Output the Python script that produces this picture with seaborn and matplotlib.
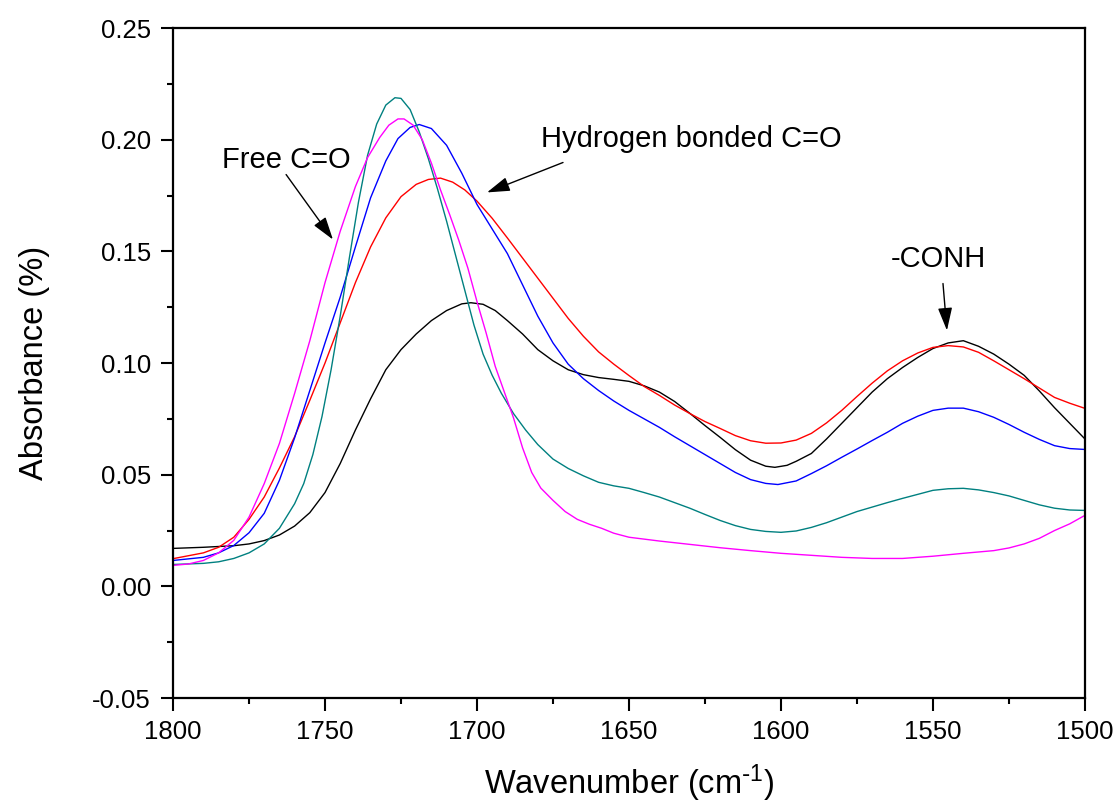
import numpy as np
import pandas as pd
import matplotlib
matplotlib.use("Agg")
import matplotlib.pyplot as plt
from matplotlib.ticker import MultipleLocator, FormatStrFormatter
import seaborn as sns

# ---- data ----
black_x = [1800, 1790, 1780, 1775, 1770, 1765, 1760, 1755, 1750, 1745, 1740, 1735, 1730, 1725, 1720,
           1715, 1710, 1705, 1702, 1698, 1694, 1690, 1685, 1680, 1675, 1670, 1665, 1660, 1655, 1650,
           1645, 1640, 1635, 1630, 1625, 1620, 1615, 1610, 1605, 1602, 1598, 1595, 1590, 1585, 1580,
           1575, 1570, 1565, 1560, 1555, 1550, 1545, 1540, 1535, 1530, 1525, 1520, 1515, 1510, 1505, 1500]
black_y = [0.0170, 0.0175, 0.0182, 0.0190, 0.0205, 0.0230, 0.0270, 0.0330, 0.0420, 0.0550, 0.0700,
           0.0840, 0.0970, 0.1060, 0.1130, 0.1190, 0.1235, 0.1265, 0.1270, 0.1263, 0.1235, 0.1190,
           0.1130, 0.1060, 0.1010, 0.0970, 0.0948, 0.0935, 0.0927, 0.0918, 0.0898, 0.0870, 0.0828,
           0.0775, 0.0720, 0.0667, 0.0612, 0.0565, 0.0538, 0.0533, 0.0542, 0.0560, 0.0595, 0.0660,
           0.0730, 0.0800, 0.0870, 0.0930, 0.0980, 0.1025, 0.1065, 0.1090, 0.1100, 0.1075, 0.1040,
           0.0995, 0.0945, 0.0875, 0.0800, 0.0730, 0.0660]

red_x = [1800, 1790, 1785, 1780, 1775, 1770, 1765, 1760, 1755, 1750, 1745, 1740, 1735, 1730, 1725,
         1720, 1716, 1712, 1708, 1704, 1700, 1695, 1690, 1685, 1680, 1675, 1670, 1665, 1660, 1655,
         1650, 1645, 1640, 1635, 1630, 1625, 1620, 1615, 1610, 1605, 1600, 1595, 1590, 1585, 1580,
         1575, 1570, 1565, 1560, 1555, 1550, 1545, 1540, 1535, 1530, 1525, 1520, 1515, 1510, 1505, 1500]
red_y = [0.0124, 0.0150, 0.0175, 0.0220, 0.0300, 0.0400, 0.0530, 0.0670, 0.0833, 0.1000, 0.1180,
         0.1360, 0.1520, 0.1650, 0.1745, 0.1800, 0.1822, 0.1828, 0.1810, 0.1775, 0.1725, 0.1648,
         0.1560, 0.1470, 0.1380, 0.1290, 0.1200, 0.1120, 0.1050, 0.0995, 0.0944, 0.0895, 0.0855,
         0.0812, 0.0774, 0.0738, 0.0707, 0.0675, 0.0652, 0.0641, 0.0642, 0.0655, 0.0685, 0.0732,
         0.0788, 0.0850, 0.0910, 0.0965, 0.1010, 0.1045, 0.1070, 0.1078, 0.1072, 0.1048, 0.1010,
         0.0970, 0.0930, 0.0888, 0.0846, 0.0820, 0.0797]

blue_x = [1800, 1790, 1785, 1780, 1775, 1770, 1765, 1760, 1755, 1750, 1745, 1740, 1735, 1730, 1726,
          1722, 1719, 1715, 1710, 1705, 1700, 1695, 1690, 1685, 1680, 1675, 1670, 1665, 1660, 1655,
          1650, 1645, 1640, 1635, 1630, 1625, 1620, 1615, 1610, 1605, 1601, 1595, 1590, 1585, 1580,
          1575, 1570, 1565, 1560, 1555, 1550, 1545, 1540, 1535, 1530, 1525, 1520, 1515, 1510, 1505, 1500]
blue_y = [0.0116, 0.0130, 0.0150, 0.0183, 0.0240, 0.0327, 0.0475, 0.0665, 0.0877, 0.1090, 0.1295,
          0.1520, 0.1740, 0.1905, 0.2005, 0.2055, 0.2068, 0.2050, 0.1975, 0.1850, 0.1710, 0.1600,
          0.1490, 0.1350, 0.1210, 0.1090, 0.0995, 0.0930, 0.0877, 0.0830, 0.0788, 0.0750, 0.0712,
          0.0670, 0.0630, 0.0590, 0.0550, 0.0510, 0.0478, 0.0461, 0.0456, 0.0472, 0.0505, 0.0540,
          0.0578, 0.0615, 0.0653, 0.0690, 0.0730, 0.0762, 0.0788, 0.0798, 0.0798, 0.0782, 0.0757,
          0.0725, 0.0690, 0.0658, 0.0630, 0.0617, 0.0613]

teal_x = [1800, 1790, 1785, 1780, 1775, 1770, 1765, 1760, 1757, 1754, 1751, 1748, 1745, 1742, 1739,
          1736, 1733, 1730, 1727, 1725, 1722, 1719, 1716, 1713, 1710, 1707, 1704, 1701, 1698, 1695,
          1692, 1688, 1684, 1680, 1675, 1670, 1665, 1660, 1655, 1650, 1645, 1640, 1635, 1630, 1625,
          1620, 1615, 1610, 1605, 1600, 1595, 1590, 1585, 1580, 1575, 1570, 1565, 1560, 1555, 1550,
          1545, 1540, 1535, 1530, 1525, 1520, 1515, 1510, 1505, 1500]
teal_y = [0.0098, 0.0103, 0.0110, 0.0125, 0.0150, 0.0190, 0.0260, 0.0370, 0.0460, 0.0590, 0.0760,
          0.0970, 0.1210, 0.1470, 0.1720, 0.1930, 0.2070, 0.2155, 0.2188, 0.2185, 0.2135, 0.2035,
          0.1915, 0.1780, 0.1635, 0.1480, 0.1325, 0.1170, 0.1040, 0.0945, 0.0865, 0.0774, 0.0700,
          0.0635, 0.0570, 0.0528, 0.0495, 0.0466, 0.0450, 0.0439, 0.0420, 0.0400, 0.0375, 0.0350,
          0.0322, 0.0295, 0.0272, 0.0255, 0.0246, 0.0242, 0.0248, 0.0264, 0.0285, 0.0310, 0.0335,
          0.0355, 0.0375, 0.0394, 0.0412, 0.0430, 0.0437, 0.0439, 0.0432, 0.0420, 0.0405, 0.0385,
          0.0365, 0.0350, 0.0342, 0.0340]

magenta_x = [1800, 1795, 1790, 1785, 1780, 1775, 1770, 1765, 1760, 1755, 1750, 1745, 1740, 1736, 1732,
             1729, 1726, 1724, 1721, 1718, 1715, 1712, 1709, 1706, 1703, 1700, 1697, 1694, 1691, 1688,
             1685, 1682, 1679, 1675, 1671, 1667, 1663, 1659, 1655, 1650, 1640, 1630, 1620, 1610, 1600,
             1590, 1580, 1570, 1560, 1550, 1540, 1530, 1525, 1520, 1515, 1510, 1505, 1500]
magenta_y = [0.0094, 0.0100, 0.0116, 0.0150, 0.0206, 0.0310, 0.0460, 0.0640, 0.0864, 0.1100, 0.1360,
             0.1590, 0.1790, 0.1920, 0.2010, 0.2065, 0.2093, 0.2093, 0.2065, 0.2000, 0.1895, 0.1775,
             0.1665, 0.1550, 0.1425, 0.1275, 0.1135, 0.0985, 0.0870, 0.0755, 0.0620, 0.0510, 0.0440,
             0.0385, 0.0335, 0.0300, 0.0278, 0.0260, 0.0238, 0.0220, 0.0203, 0.0188, 0.0173, 0.0160,
             0.0148, 0.0139, 0.0130, 0.0125, 0.0125, 0.0135, 0.0148, 0.0160, 0.0172, 0.0190, 0.0215,
             0.0250, 0.0280, 0.0318]

series_names = ["black", "red", "blue", "teal", "magenta"]
series_colors = ["#000000", "#FF0000", "#0000FF", "#008080", "#FF00FF"]

annot_free = "Free C=O"
annot_hbond = "Hydrogen bonded C=O"
annot_conh = "-CONH"

frames = []
for name, xs, ys in zip(series_names,
                        [black_x, red_x, blue_x, teal_x, magenta_x],
                        [black_y, red_y, blue_y, teal_y, magenta_y]):
    frames.append(pd.DataFrame({"wavenumber": xs, "absorbance": ys, "sample": name}))
df = pd.concat(frames, ignore_index=True)

# ---- style ----
sns.set_style("ticks")
plt.rcParams["font.family"] = ["Liberation Sans", "DejaVu Sans"]
plt.rcParams["mathtext.default"] = "regular"
plt.rcParams["axes.unicode_minus"] = False
for key in ["text.color", "axes.labelcolor", "xtick.color", "ytick.color", "axes.edgecolor"]:
    plt.rcParams[key] = "black"

fig = plt.figure(figsize=(11.17, 8.08), dpi=100)
ax = fig.add_axes([0.1549, 0.1361, 0.8164, 0.8292])

sns.lineplot(data=df, x="wavenumber", y="absorbance", hue="sample",
             hue_order=series_names, palette=dict(zip(series_names, series_colors)),
             estimator=None, sort=True, legend=False, linewidth=1.0, ax=ax)

ax.set_xlim(1800, 1500)
ax.set_ylim(-0.05, 0.25)
ax.xaxis.set_major_locator(MultipleLocator(50))
ax.xaxis.set_minor_locator(MultipleLocator(25))
ax.yaxis.set_major_locator(MultipleLocator(0.05))
ax.yaxis.set_minor_locator(MultipleLocator(0.025))
ax.yaxis.set_major_formatter(FormatStrFormatter("%.2f"))
ax.xaxis.set_major_formatter(FormatStrFormatter("%d"))

for s in ax.spines.values():
    s.set_linewidth(1.6)
    s.set_color("black")

ax.tick_params(axis="both", which="major", direction="out", length=9, width=1.5,
               labelsize=18.5, top=False, right=False, colors="black")
ax.tick_params(axis="both", which="minor", direction="out", length=4.5, width=1.5,
               top=False, right=False, colors="black")
ax.tick_params(axis="y", which="major", pad=7)
ax.tick_params(axis="x", which="major", pad=7)

ax.set_xlabel(r"Wavenumber (cm$^{\text{-}1}$)", fontsize=23.5, labelpad=13, color="black")
ax.set_ylabel("Absorbance (%)", fontsize=23.5, labelpad=30, color="black")

# ---- annotations ----
txt_size = 21
ax.text(1783.9, 0.1907, annot_free, fontsize=txt_size, ha="left", va="center", color="black")
ax.text(1678.9, 0.2005, annot_hbond, fontsize=txt_size, ha="left", va="center", color="black")
ax.text(1548.3, 0.1464, annot_conh, fontsize=txt_size, ha="center", va="center", color="black")

arrow_kw = dict(arrowstyle="-|>,head_length=0.7,head_width=0.22", color="black",
                lw=1.0, mutation_scale=20, shrinkA=0, shrinkB=0)
ax.annotate("", xy=(1747.4, 0.1553), xytext=(1762.8, 0.1844), arrowprops=arrow_kw)
ax.annotate("", xy=(1696.7, 0.1764), xytext=(1671.7, 0.1898), arrowprops=arrow_kw)
ax.annotate("", xy=(1545.4, 0.1146), xytext=(1546.7, 0.1356), arrowprops=arrow_kw)

fig.savefig("out.png", dpi=100, facecolor="white")
